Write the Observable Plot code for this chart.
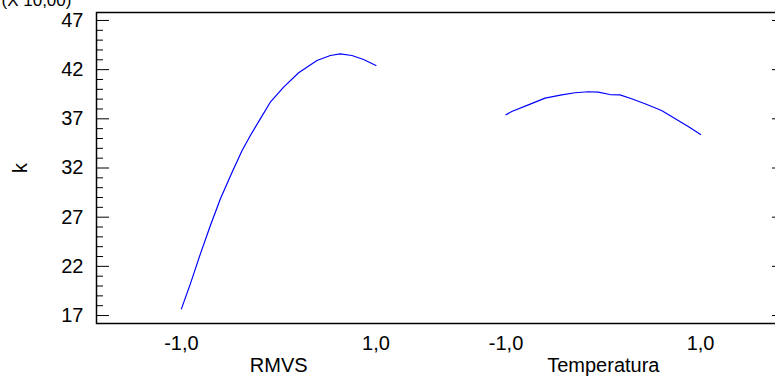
<!DOCTYPE html>
<html>
<head>
<meta charset="utf-8">
<script src="https://cdn.jsdelivr.net/npm/d3@7"></script>
<script src="https://cdn.jsdelivr.net/npm/@observablehq/plot@0.6"></script>
<style>
  html, body { margin: 0; padding: 0; background: white; overflow: hidden; }
  #chart { width: 775px; height: 378px; overflow: hidden; }
</style>
</head>
<body>
<div id="chart"></div>
<script>
// ---- data ----
const factors = ["RMVS", "Temperatura"];

const rmvsLevel = [-1.000, -0.908, -0.805, -0.702, -0.599, -0.479, -0.376, -0.291, -0.189, -0.086, 0.051, 0.205, 0.394, 0.531, 0.633, 0.753, 0.873, 1.000];
const rmvsK     = [17.68, 20.22, 23.27, 26.15, 28.87, 31.57, 33.78, 35.30, 37.00, 38.69, 40.22, 41.68, 42.93, 43.44, 43.61, 43.44, 43.03, 42.42];

const tempLevel = [-1.000, -0.941, -0.771, -0.599, -0.428, -0.291, -0.155, -0.052, 0.068, 0.171, 0.291, 0.428, 0.599, 0.770, 0.873, 1.000];
const tempK     = [37.41, 37.75, 38.42, 39.10, 39.44, 39.65, 39.75, 39.71, 39.47, 39.44, 39.04, 38.53, 37.85, 36.83, 36.22, 35.41];

const xTickValues = [-1, 1];
const xTickLabels = ["-1,0", "1,0"];
const yMajorTicks = [17, 22, 27, 32, 37, 42, 47];
const yMinorTicks = d3.range(17, 48).filter(v => !yMajorTicks.includes(v));
const yLabel = "k";
const scaleNote = "(X 10,00)";

// ---- layout of the factor slots on a shared x axis ----
const GAP = 1.338;   // space between the two factor ranges (factor units)
const PAD = 0.873;   // space between frame and outer factor ranges
const slotOffset = i => i * (2 + GAP);

const lineData = [
  ...rmvsLevel.map((lv, i) => ({factor: factors[0], pos: lv + slotOffset(0), k: rmvsK[i]})),
  ...tempLevel.map((lv, i) => ({factor: factors[1], pos: lv + slotOffset(1), k: tempK[i]}))
];
const tickData = factors.flatMap((f, fi) =>
  xTickValues.map((v, j) => ({pos: v + slotOffset(fi), label: xTickLabels[j]})));
const nameData = factors.map((f, fi) => ({pos: slotOffset(fi), name: f}));

const W = 790, H = 378;
const mL = 96, mR = W - 785, mT = 12, mB = H - 323;
const frameW = W - mL - mR;
const FS = 20;

const chart = Plot.plot({
  width: W,
  height: H,
  marginLeft: mL,
  marginRight: mR,
  marginTop: mT,
  marginBottom: mB,
  style: {fontFamily: "'Liberation Sans', Arial, sans-serif", fontSize: FS + "px", maxWidth: "none", overflow: "visible", background: "white", color: "black"},
  x: {domain: [-1 - PAD, slotOffset(1) + 1 + PAD], axis: null},
  y: {domain: [16.19, 47.81], axis: null},
  marks: [
    // inward ticks, left side
    Plot.tickY(yMajorTicks, {y: d => d, insetRight: frameW - 13, stroke: "black", strokeWidth: 1}),
    Plot.tickY(yMinorTicks, {y: d => d, insetRight: frameW - 7, stroke: "black", strokeWidth: 1}),
    // inward ticks, right side
    Plot.tickY(yMajorTicks, {y: d => d, insetLeft: frameW - 13, stroke: "black", strokeWidth: 1}),
    Plot.tickY(yMinorTicks, {y: d => d, insetLeft: frameW - 7, stroke: "black", strokeWidth: 1}),
    Plot.frame({stroke: "black", strokeWidth: 1.5}),
    // y tick labels
    Plot.text(yMajorTicks, {y: d => d, text: d => String(d), frameAnchor: "left", dx: -13, textAnchor: "end", lineAnchor: "middle", fontSize: FS, fill: "black"}),
    // y label
    Plot.text([yLabel], {frameAnchor: "left", dx: -76, rotate: -90, textAnchor: "middle", lineAnchor: "middle", fontSize: FS, fill: "black"}),
    // x tick labels
    Plot.text(tickData, {x: "pos", text: "label", frameAnchor: "bottom", dy: 20, textAnchor: "middle", lineAnchor: "middle", fontSize: FS, fill: "black"}),
    // factor names
    Plot.text(nameData, {x: "pos", text: "name", frameAnchor: "bottom", dy: 42, textAnchor: "middle", lineAnchor: "middle", fontSize: FS, fill: "black"}),
    // scale note at top-left (cut off by the image edge, as in the reference)
    Plot.text([scaleNote], {frameAnchor: "top-left", dx: -95, dy: -7, textAnchor: "start", lineAnchor: "bottom", fontSize: 17, fill: "black"}),
    // main-effect curves
    Plot.line(lineData, {x: "pos", y: "k", z: "factor", stroke: "#0000ff", strokeWidth: 1.2})
  ]
});
document.getElementById("chart").appendChild(chart);
</script>
</body>
</html>
